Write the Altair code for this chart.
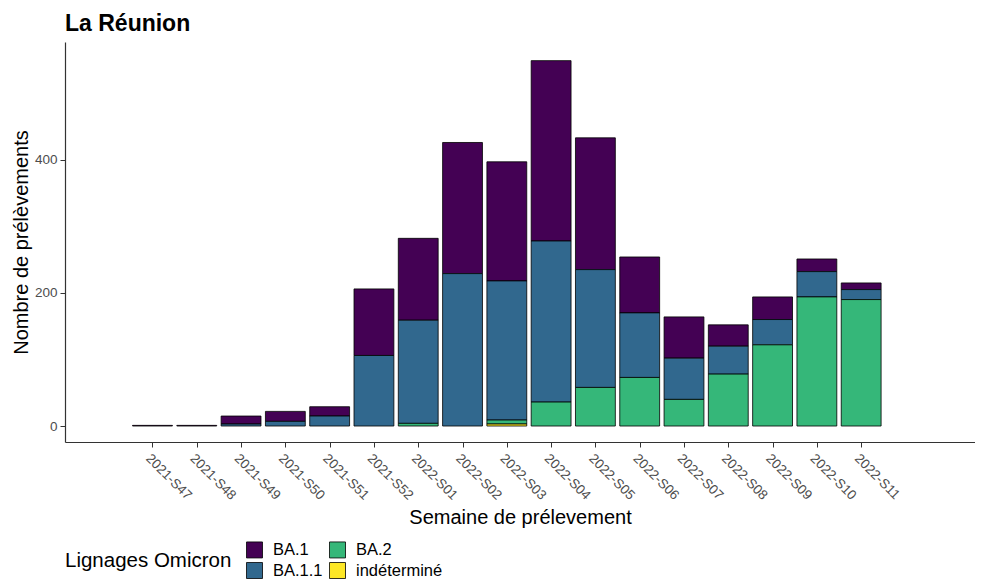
import json
import altair as alt
import pandas as pd

weeks = ["2021-S47", "2021-S48", "2021-S49", "2021-S50", "2021-S51", "2021-S52",
         "2022-S01", "2022-S02", "2022-S03", "2022-S04", "2022-S05", "2022-S06",
         "2022-S07", "2022-S08", "2022-S09", "2022-S10", "2022-S11"]
ba1 = [1, 1, 12, 15, 14, 100, 123, 197, 179, 271, 198, 84, 62, 32, 34, 19, 10]
ba11 = [0, 0, 3, 7, 15, 106, 155, 229, 209, 242, 177, 97, 62, 42, 38, 38, 15]
ba2 = [0, 0, 0, 0, 0, 0, 4, 0, 6, 36, 58, 73, 40, 78, 122, 194, 190]
indet = [0, 0, 0, 0, 0, 0, 0, 0, 3, 0, 0, 0, 0, 0, 0, 0, 0]

lineages = ["BA.1", "BA.1.1", "BA.2", "indéterminé"]
stack_rank = {"indéterminé": 0, "BA.2": 1, "BA.1.1": 2, "BA.1": 3}
series = {"BA.1": ba1, "BA.1.1": ba11, "BA.2": ba2, "indéterminé": indet}
legend_domain = ["BA.1", "BA.2", "BA.1.1", "indéterminé"]
legend_colors = ["#440154", "#35B779", "#31688E", "#FDE725"]
chart_title = "La Réunion"

rows = []
for i, w in enumerate(weeks):
    for lin in lineages:
        v = series[lin][i]
        if v > 0:
            rows.append({"idx": i, "semaine": w, "lignage": lin,
                         "n": v, "rank": stack_rank[lin]})
df = pd.DataFrame(rows)

label_expr = "%s[datum.value]" % json.dumps(weeks, ensure_ascii=False)

FONT = "Liberation Sans"

bars = alt.Chart(df).transform_stack(
    stack="n", groupby=["idx"], sort=[alt.SortField("rank", order="ascending")],
    as_=["y0", "y1"]
).transform_calculate(
    xl="datum.idx - 0.45", xr="datum.idx + 0.45"
).mark_bar(stroke="black", strokeWidth=0.8).encode(
    x=alt.X("xl:Q",
            scale=alt.Scale(domain=[-1.975, 18.57], nice=False, zero=False),
            axis=alt.Axis(values=list(range(len(weeks))), labelExpr=label_expr,
                          labelAngle=45, labelAlign="left", labelBaseline="top",
                          labelFontSize=13.5, labelColor="#4d4d4d", labelPadding=4,
                          tickSize=5, tickColor="#333333", tickWidth=1,
                          domainColor="#333333", domainWidth=1.2, grid=False,
                          title="Semaine de prélevement", titleFontSize=20,
                          titleFontWeight="normal", titleColor="black",
                          titleBaseline="alphabetic", titleY=81, labelOverlap=False)),
    x2="xr:Q",
    y=alt.Y("y0:Q",
            scale=alt.Scale(domain=[-24, 577], nice=False, zero=False),
            axis=alt.Axis(values=[0, 200, 400], labelFontSize=13.5, labelColor="#4d4d4d",
                          tickSize=5, tickColor="#333333", tickWidth=1,
                          domainColor="#333333", domainWidth=1.2, grid=False,
                          labelPadding=3,
                          title="Nombre de prélèvements", titleFontSize=20,
                          titleFontWeight="normal", titleColor="black",
                          titleBaseline="alphabetic", titleX=-38, titleY=200,
                          titleAngle=-90, titleAlign="center")),
    y2="y1:Q",
    fill=alt.Fill("lignage:N",
                  scale=alt.Scale(domain=legend_domain, range=legend_colors),
                  legend=alt.Legend(orient="none", legendX=0, legendY=499,
                                    columns=2, direction="horizontal",
                                    title="Lignages Omicron", titleOrient="left",
                                    titleFontSize=20.5, titleFontWeight="normal",
                                    titleColor="black", titlePadding=14,
                                    titleBaseline="middle", titleAnchor="middle",
                                    labelFontSize=16.5, labelColor="black",
                                    labelOffset=10, columnPadding=4, rowPadding=0,
                                    symbolType="square", symbolSize=256,
                                    symbolStrokeColor="black", symbolStrokeWidth=0.8,
                                    symbolOpacity=1)),
)

title_df = pd.DataFrame({"t": [chart_title]})
title = alt.Chart(title_df).mark_text(
    align="left", baseline="alphabetic", fontSize=23, fontWeight="bold",
    color="black", font=FONT
).encode(x=alt.value(0), y=alt.value(-11), text="t:N")

chart = alt.layer(bars, title).properties(
    width=910, height=400,
    autosize=alt.AutoSizeParams(type="none"),
    padding={"left": 57, "top": 34, "right": 0, "bottom": 142},
).configure(font=FONT).configure_view(stroke=None)

chart.save("out.html", embed_options={"renderer": "svg", "actions": False})
